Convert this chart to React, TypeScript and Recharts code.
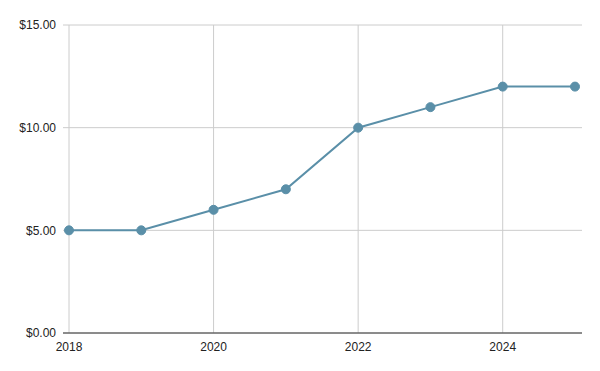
import React from "react";
import { LineChart, Line, XAxis, YAxis, CartesianGrid } from "recharts";

const years = [2018, 2019, 2020, 2021, 2022, 2023, 2024, 2025];
const prices = [5, 5, 6, 7, 10, 11, 12, 12];
const xTicks = [2018, 2020, 2022, 2024];
const yTicks = [0, 5, 10, 15];

const data = years.map((year, i) => ({ year, price: prices[i] }));

const fmt = (v: number) => `$${v.toFixed(2)}`;

const App: React.FC = () => {
  return (
    <div style={{ position: "absolute", left: 0, top: 0, background: "#fff" }}>
      <LineChart
        width={600}
        height={371}
        data={data}
        margin={{ top: 25, right: 18, bottom: 13, left: 0 }}
      >
        <CartesianGrid stroke="#cccccc" verticalValues={xTicks} />
        <XAxis
          dataKey="year"
          type="number"
          domain={[2018, 2025]}
          ticks={xTicks}
          padding={{ left: 6, right: 7 }}
          height={25}
          tickLine={false}
          tickSize={0}
          tickMargin={9}
          axisLine={{ stroke: "#333333" }}
          tick={{ fill: "#222222", fontSize: 12, fontFamily: "Liberation Sans, Arial, sans-serif" }}
        />
        <YAxis
          type="number"
          domain={[0, 15]}
          ticks={yTicks}
          tickFormatter={fmt}
          width={63}
          axisLine={false}
          tickLine={false}
          tickSize={0}
          tickMargin={7}
          tick={{ fill: "#222222", fontSize: 12, fontFamily: "Liberation Sans, Arial, sans-serif" }}
        />
        <Line
          dataKey="price"
          stroke="#5a8fa8"
          strokeWidth={2}
          dot={{ r: 4.5, fill: "#5a8fa8", stroke: "#5a8fa8", strokeWidth: 1 }}
          activeDot={false}
          isAnimationActive={false}
        />
      </LineChart>
    </div>
  );
};

export default App;
